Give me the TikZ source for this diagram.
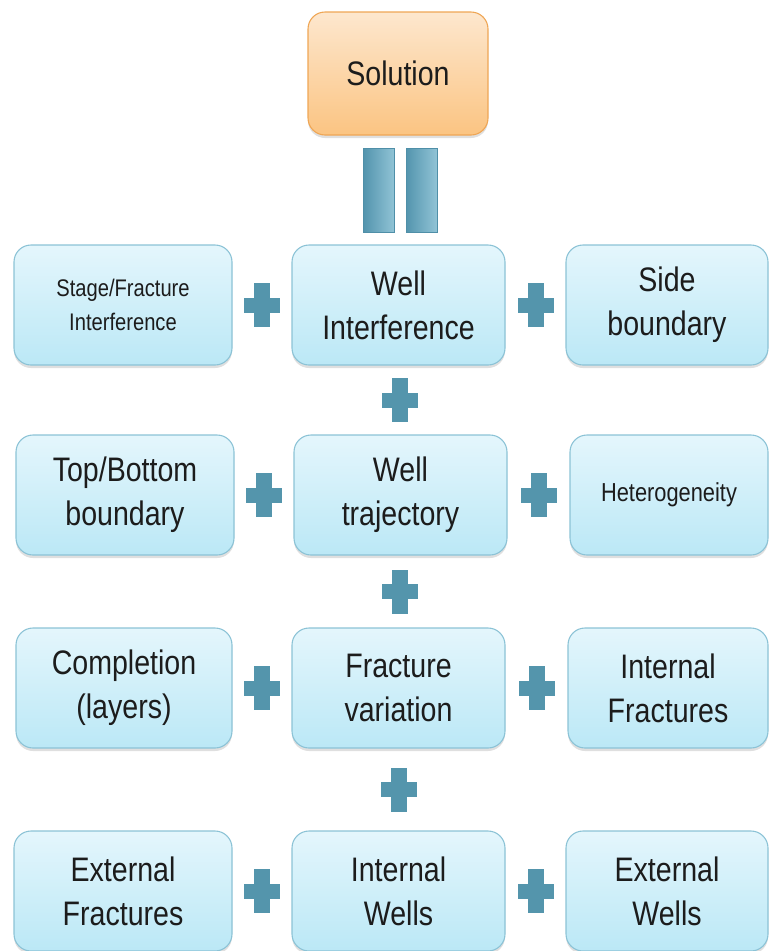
\documentclass[tikz,border=0pt]{standalone}
\usepackage{fontspec}
\newfontfamily\boxfont[FakeStretch=0.84]{Liberation Sans}
\usetikzlibrary{shadows}
\definecolor{boxtop}{HTML}{E4F6FC}
\definecolor{boxbot}{HTML}{BBE8F6}
\definecolor{boxline}{HTML}{8CC3D6}
\definecolor{soltop}{HTML}{FDE7CE}
\definecolor{solbot}{HTML}{FBC482}
\definecolor{solline}{HTML}{EFA655}
\definecolor{plusc}{HTML}{5495AC}
\definecolor{barc}{HTML}{62AAC4}
\definecolor{barline}{HTML}{4F8FA8}
\definecolor{txt}{HTML}{1C1C1C}
\tikzset{
  base/.style={rounded corners=17pt, line width=1.1pt, align=center, text=txt,
    inner sep=0pt, drop shadow={shadow xshift=0pt, shadow yshift=-3pt, opacity=0.25}},
  bluebox/.style={base, draw=boxline, top color=boxtop, bottom color=boxbot,
    minimum height=120pt},
  big/.style={font=\boxfont\fontsize{34}{44}\selectfont},
  small/.style={font=\boxfont\fontsize{26}{34}\selectfont},
  tiny/.style={font=\boxfont\fontsize{24}{34}\selectfont},
  solbox/.style={base, draw=solline, top color=soltop, bottom color=solbot,
    minimum width=180pt, minimum height=123pt, font=\boxfont\fontsize{34}{44}\selectfont},
  eqbar/.style={draw=barline, line width=0.8pt, left color=barline!80!barc, right color=barc!70!white,
    minimum width=31pt, minimum height=84pt, inner sep=0pt},
}
\newcommand{\plusH}[1]{\fill[plusc] ([xshift=-18pt,yshift=-7.5pt]#1) rectangle ([xshift=18pt,yshift=7.5pt]#1);
  \fill[plusc] ([xshift=-8pt,yshift=-22pt]#1) rectangle ([xshift=8pt,yshift=22pt]#1);}
\begin{document}
\begin{tikzpicture}[x=1pt,y=-1pt]
\useasboundingbox (0,0) rectangle (769,951);
% Solution
\node[solbox] (sol) at (398,73.5) {Solution};
\node[eqbar] (bar1) at (379,190) {};
\node[eqbar] (bar2) at (421.5,190) {};
% row 1
\node[bluebox, minimum width=218pt, tiny] (r1l) at (123,305) {Stage/Fracture\\Interference};
\node[bluebox, minimum width=213pt, big] (r1m) at (398.5,305) {Well\\Interference};
\node[bluebox, minimum width=202pt, big] (r1r) at (667,305) {Side\\boundary};
% row 2
\node[bluebox, minimum width=218pt, big] (r2l) at (125,495) {Top/Bottom\\boundary};
\node[bluebox, minimum width=213pt, big] (r2m) at (400.5,495) {Well\\trajectory};
\node[bluebox, minimum width=198pt, small] (r2r) at (669,495) {Heterogeneity};
% row 3
\node[bluebox, minimum width=216pt, big] (r3l) at (124,688) {Completion\\(layers)};
\node[bluebox, minimum width=213pt, big] (r3m) at (398.5,688) {Fracture\\variation};
\node[bluebox, minimum width=200pt, big] (r3r) at (668,688) {Internal\\Fractures};
% row 4
\node[bluebox, minimum width=218pt, big] (r4l) at (123,891) {External\\Fractures};
\node[bluebox, minimum width=213pt, big] (r4m) at (398.5,891) {Internal\\Wells};
\node[bluebox, minimum width=202pt, big] (r4r) at (667,891) {External\\Wells};
% plus signs
\foreach \a/\b/\n in {r1l/r1m/p1a, r1m/r1r/p1b, r2l/r2m/p2a, r2m/r2r/p2b, r3l/r3m/p3a, r3m/r3r/p3b, r4l/r4m/p4a, r4m/r4r/p4b}{
  \path (\a.east) -- (\b.west) coordinate[midway] (\n);
  \plusH{\n}
}
\foreach \a/\b/\n in {r1m/r2m/v1, r2m/r3m/v2, r3m/r4m/v3}{
  \path (\a.south) -- (\b.north) coordinate[midway] (\n);
  \plusH{\n}
}
\end{tikzpicture}
\end{document}
